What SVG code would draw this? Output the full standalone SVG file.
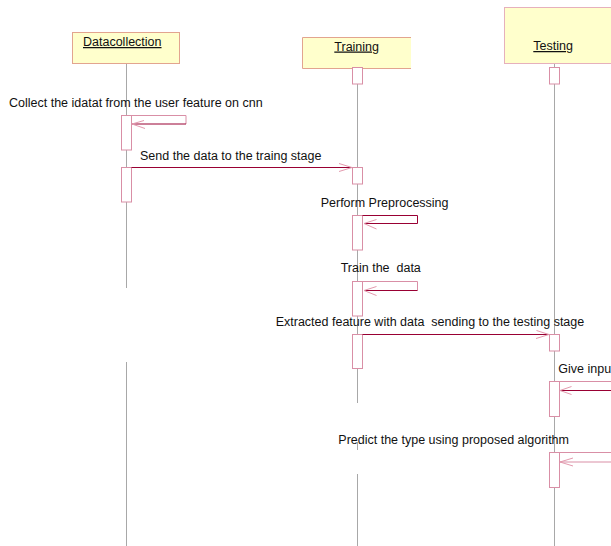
<svg xmlns="http://www.w3.org/2000/svg" width="611" height="546" viewBox="0 0 611 546">
<style>
text{font-family:"Liberation Sans",Arial,sans-serif;font-size:12.5px;fill:#111;white-space:pre}
.u{text-decoration:underline}
.head{fill:#FFFFCC;stroke:#E2A48F;stroke-width:1}
.life{stroke:#A8A8A8;stroke-width:1;fill:none}
.act{fill:#FFFFFF;stroke:#D98FA6;stroke-width:1}
.msg{stroke:#990033;stroke-width:1;fill:none}
.lt{stroke:#D98FA6;stroke-width:1;fill:none}
.barb{stroke:#E39AAE;stroke-width:1;fill:none}
</style>
<rect width="611" height="546" fill="#FFFFFF"/>
<g id="lifelines">
<path class="life" d="M126.5,64V288M126.5,362V546"/>
<path class="life" d="M357.5,68V403M357.5,442V450M357.5,474V546"/>
<path class="life" d="M554.5,63V546"/>
</g>
<g id="datacollection">
<rect class="head" x="72.5" y="32.5" width="107" height="31"/>
<text class="u" x="83" y="46">Datacollection</text>
<rect class="act" x="121.5" y="115.5" width="10" height="34.5"/>
<rect class="act" x="121.5" y="167.5" width="10" height="34.5"/>
</g>
<g id="training">
<path d="M411,37.5H302.5V68.5H411Z" fill="#FFFFCC"/>
<path d="M411,37.5H302.5V68.5H411" fill="none" stroke="#E2A48F"/>
<text class="u" x="334.3" y="50.5">Training</text>
<rect class="act" x="352.5" y="67.5" width="10" height="16.5"/>
<rect class="act" x="352.5" y="167.5" width="10" height="16.5"/>
<rect class="act" x="352.5" y="215.5" width="10" height="34.5"/>
<rect class="act" x="352.5" y="281.5" width="10" height="34.5"/>
<rect class="act" x="352.5" y="334.5" width="10" height="34"/>
</g>
<g id="testing">
<rect x="504.5" y="7.5" width="110" height="56" fill="#FFFFCC" stroke="#E6B0BC"/>
<text class="u" x="533.3" y="50">Testing</text>
<rect class="act" x="549.5" y="67.5" width="10" height="16.5"/>
<rect class="act" x="549.5" y="334.5" width="10" height="16.5"/>
<rect class="act" x="549.5" y="381.5" width="10" height="35"/>
<rect class="act" x="549.5" y="452.5" width="10" height="35"/>
</g>
<g id="connectors">
<path class="lt" d="M131.5,115.5H186V124"/>
<path class="msg" d="M186,124H132"/>
<path class="barb" d="M144,120.5L132,124L145,128.5"/>
<path class="msg" d="M131.5,167.5H352"/>
<path class="barb" d="M339,163.5L352,167.5L339,171.5"/>
<path class="msg" d="M362.5,215.5H417.5V223.5H364"/>
<path class="barb" d="M376.5,219.5L364,223.5L376.5,229"/>
<path class="lt" d="M362.5,281.5H417.5V290.5"/>
<path class="msg" d="M417.5,290.5H364"/>
<path class="barb" d="M376.5,286.5L364,290.5L376.5,295.5"/>
<path class="msg" d="M362.5,334.5H549"/>
<path class="barb" d="M536.5,330.5L549,334.5L536,338.5"/>
<path class="lt" d="M559.5,381.5H620V390.5"/>
<path class="msg" d="M620,390.5H560"/>
<path class="barb" d="M571.5,386.5L560,390.5L571.5,394.5"/>
<path class="lt" d="M559.5,452.5H620V462H560"/>
<path class="barb" d="M573,458L560,462L573,466"/>
</g>
<g id="labels">
<text x="9" y="107">Collect the idatat from the user feature on cnn</text>
<text x="140" y="159.5">Send the data to the traing stage</text>
<text x="320.7" y="206.7">Perform Preprocessing</text>
<text x="340.7" y="272.3">Train the  data</text>
<text x="275.7" y="325.7">Extracted feature with data  sending to the testing stage</text>
<text x="558.3" y="373">Give inpu</text>
<text x="338.3" y="444">Predict the type using proposed algorithm</text>
</g>
</svg>
